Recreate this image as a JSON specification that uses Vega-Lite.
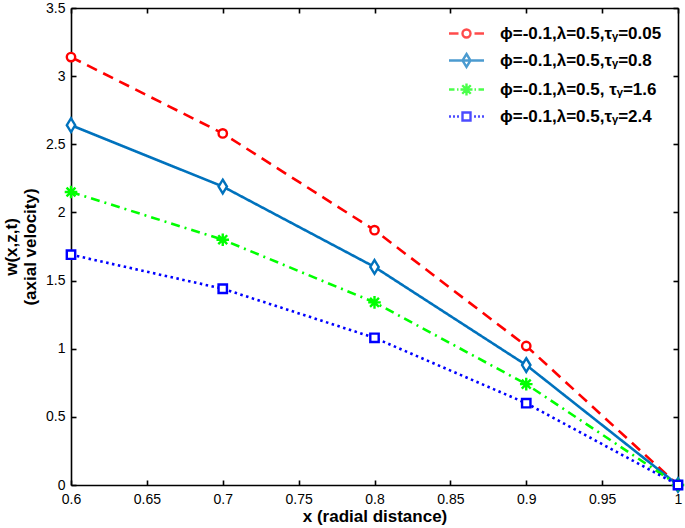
{
  "$schema": "https://vega.github.io/schema/vega-lite/v6.json",
  "width": 607,
  "height": 477,
  "autosize": {"type": "none"},
  "padding": {"left": 71, "top": 8, "right": 7, "bottom": 43},
  "background": "white",
  "datasets": {
    "curves": [
      {"x": 0.6, "w": 3.14, "series": "ϕ=-0.1,λ=0.5,τᵧ=0.05"},
      {"x": 0.7, "w": 2.58, "series": "ϕ=-0.1,λ=0.5,τᵧ=0.05"},
      {"x": 0.8, "w": 1.87, "series": "ϕ=-0.1,λ=0.5,τᵧ=0.05"},
      {"x": 0.9, "w": 1.02, "series": "ϕ=-0.1,λ=0.5,τᵧ=0.05"},
      {"x": 1.0, "w": 0.0, "series": "ϕ=-0.1,λ=0.5,τᵧ=0.05"},
      {"x": 0.6, "w": 2.64, "series": "ϕ=-0.1,λ=0.5,τᵧ=0.8"},
      {"x": 0.7, "w": 2.19, "series": "ϕ=-0.1,λ=0.5,τᵧ=0.8"},
      {"x": 0.8, "w": 1.60, "series": "ϕ=-0.1,λ=0.5,τᵧ=0.8"},
      {"x": 0.9, "w": 0.88, "series": "ϕ=-0.1,λ=0.5,τᵧ=0.8"},
      {"x": 1.0, "w": 0.0, "series": "ϕ=-0.1,λ=0.5,τᵧ=0.8"},
      {"x": 0.6, "w": 2.15, "series": "ϕ=-0.1,λ=0.5, τᵧ=1.6"},
      {"x": 0.7, "w": 1.80, "series": "ϕ=-0.1,λ=0.5, τᵧ=1.6"},
      {"x": 0.8, "w": 1.34, "series": "ϕ=-0.1,λ=0.5, τᵧ=1.6"},
      {"x": 0.9, "w": 0.74, "series": "ϕ=-0.1,λ=0.5, τᵧ=1.6"},
      {"x": 1.0, "w": 0.0, "series": "ϕ=-0.1,λ=0.5, τᵧ=1.6"},
      {"x": 0.6, "w": 1.69, "series": "ϕ=-0.1,λ=0.5,τᵧ=2.4"},
      {"x": 0.7, "w": 1.44, "series": "ϕ=-0.1,λ=0.5,τᵧ=2.4"},
      {"x": 0.8, "w": 1.08, "series": "ϕ=-0.1,λ=0.5,τᵧ=2.4"},
      {"x": 0.9, "w": 0.60, "series": "ϕ=-0.1,λ=0.5,τᵧ=2.4"},
      {"x": 1.0, "w": 0.0, "series": "ϕ=-0.1,λ=0.5,τᵧ=2.4"}
    ]
  },
  "data": {"name": "curves"},
  "config": {
    "view": {"stroke": null},
    "axis": {
      "domainColor": "black", "domainWidth": 1.6,
      "tickColor": "black", "tickWidth": 1.6, "tickSize": -5,
      "labelFont": "Liberation Sans", "labelFontSize": 14, "labelColor": "black",
      "labelFlush": false,
      "titleFont": "Liberation Sans", "titleFontSize": 17, "titleFontWeight": "bold", "titleColor": "black",
      "grid": false
    },
    "legend": {
      "orient": "none", "legendX": 387, "legendY": 17,
      "padding": 0,
      "labelFont": "Liberation Sans", "labelFontSize": 17, "labelFontWeight": "bold", "labelColor": "black",
      "labelOffset": 25, "labelLimit": 400, "symbolSize": 100, "symbolStrokeWidth": 2.4, "rowPadding": 6,
      "symbolFillColor": "transparent"
    }
  },
  "resolve": {
    "scale": {"color": "independent", "shape": "independent", "stroke": "independent", "strokeDash": "independent"},
    "axis": {"x": "independent", "y": "independent"}
  },
  "layer": [
    {
      "mark": {"type": "line", "strokeWidth": 2.6},
      "encoding": {
        "x": {"field": "x", "type": "quantitative",
          "scale": {"domain": [0.6, 1.0], "nice": false, "zero": false},
          "axis": {"orient": "bottom", "values": [0.6, 0.65, 0.7, 0.75, 0.8, 0.85, 0.9, 0.95, 1.0], "format": "~g", "title": "x (radial distance)", "labelPadding": 12, "titlePadding": 2}},
        "y": {"field": "w", "type": "quantitative",
          "scale": {"domain": [0, 3.5], "nice": false},
          "axis": {"orient": "left", "values": [0, 0.5, 1, 1.5, 2, 2.5, 3, 3.5], "format": "~g", "title": ["w(x,z,t)", "(axial velocity)"], "titleLineHeight": 19, "labelPadding": 11, "titlePadding": 6}},
        "color": {"field": "series", "type": "nominal",
          "scale": {"domain": ["ϕ=-0.1,λ=0.5,τᵧ=0.05", "ϕ=-0.1,λ=0.5,τᵧ=0.8", "ϕ=-0.1,λ=0.5, τᵧ=1.6", "ϕ=-0.1,λ=0.5,τᵧ=2.4"],
                    "range": ["#ff0000", "#0072bd", "#00ff00", "#0000ff"]},
          "legend": null},
        "strokeDash": {"field": "series", "type": "nominal",
          "scale": {"domain": ["ϕ=-0.1,λ=0.5,τᵧ=0.05", "ϕ=-0.1,λ=0.5,τᵧ=0.8", "ϕ=-0.1,λ=0.5, τᵧ=1.6", "ϕ=-0.1,λ=0.5,τᵧ=2.4"],
                    "range": [[11, 7], [1, 0], [9, 5, 2, 5], [2.5, 3.5]]},
          "legend": null}
      }
    },
    {
      "mark": {"type": "point", "fill": "white", "strokeWidth": 2.4, "size": 110, "opacity": 1},
      "encoding": {
        "x": {"field": "x", "type": "quantitative", "axis": null},
        "y": {"field": "w", "type": "quantitative", "axis": null},
        "stroke": {"field": "series", "type": "nominal",
          "scale": {"domain": ["ϕ=-0.1,λ=0.5,τᵧ=0.05", "ϕ=-0.1,λ=0.5,τᵧ=0.8", "ϕ=-0.1,λ=0.5, τᵧ=1.6", "ϕ=-0.1,λ=0.5,τᵧ=2.4"],
                    "range": ["#ff0000", "#0072bd", "#00ff00", "#0000ff"]},
          "legend": null},
        "shape": {"field": "series", "type": "nominal",
          "scale": {"domain": ["ϕ=-0.1,λ=0.5,τᵧ=0.05", "ϕ=-0.1,λ=0.5,τᵧ=0.8", "ϕ=-0.1,λ=0.5, τᵧ=1.6", "ϕ=-0.1,λ=0.5,τᵧ=2.4"],
                    "range": [
                      "M0.8,0A0.8,0.8,0,1,1,-0.8,0A0.8,0.8,0,1,1,0.8,0Z",
                      "M0,-1.3L0.8,0L0,1.3L-0.8,0Z",
                      "M0,-1.2L0,1.2M-1.2,0L1.2,0M-0.85,-0.85L0.85,0.85M-0.85,0.85L0.85,-0.85",
                      "M-0.8,-0.8L0.8,-0.8L0.8,0.8L-0.8,0.8Z"
                    ]},
          "legend": null}
      }
    },
    {
      "transform": [{"filter": "false"}],
      "mark": {"type": "point", "filled": false, "strokeWidth": 2.4, "size": 100},
      "encoding": {
        "x": {"field": "x", "type": "quantitative", "axis": null},
        "y": {"field": "w", "type": "quantitative", "axis": null},
        "color": {"field": "series", "type": "nominal",
          "scale": {"domain": ["ϕ=-0.1,λ=0.5,τᵧ=0.05", "ϕ=-0.1,λ=0.5,τᵧ=0.8", "ϕ=-0.1,λ=0.5, τᵧ=1.6", "ϕ=-0.1,λ=0.5,τᵧ=2.4"],
                    "range": ["#ff0000", "#0072bd", "#00ff00", "#0000ff"]},
          "legend": {"title": null}},
        "shape": {"field": "series", "type": "nominal",
          "scale": {"domain": ["ϕ=-0.1,λ=0.5,τᵧ=0.05", "ϕ=-0.1,λ=0.5,τᵧ=0.8", "ϕ=-0.1,λ=0.5, τᵧ=1.6", "ϕ=-0.1,λ=0.5,τᵧ=2.4"],
                    "range": [
                      "M-3.5,0L-1.6,0M1.6,0L3.5,0M0.8,0A0.8,0.8,0,1,1,-0.8,0A0.8,0.8,0,1,1,0.8,0Z",
                      "M-3.5,0L3.5,0M0,-1.3L0.8,0L0,1.3L-0.8,0Z",
                      "M-3.5,0L-2.4,0M-1.9,0L-1.6,0M1.6,0L1.9,0M2.4,0L3.5,0M0,-1.2L0,1.2M-1.2,0L1.2,0M-0.85,-0.85L0.85,0.85M-0.85,0.85L0.85,-0.85",
                      "M-3.5,0L-3.1,0M-2.7,0L-2.3,0M-1.9,0L-1.5,0M1.5,0L1.9,0M2.3,0L2.7,0M3.1,0L3.5,0M-0.8,-0.8L0.8,-0.8L0.8,0.8L-0.8,0.8Z"
                    ]},
          "legend": {"title": null}}
      }
    },
    {
      "mark": {"type": "point", "opacity": 0},
      "encoding": {
        "x": {"field": "x", "type": "quantitative",
          "axis": {"orient": "top", "values": [0.6, 0.65, 0.7, 0.75, 0.8, 0.85, 0.9, 0.95, 1.0], "labels": false, "title": null}},
        "y": {"field": "w", "type": "quantitative",
          "axis": {"orient": "right", "values": [0, 0.5, 1, 1.5, 2, 2.5, 3, 3.5], "labels": false, "title": null}}
      }
    }
  ]
}
